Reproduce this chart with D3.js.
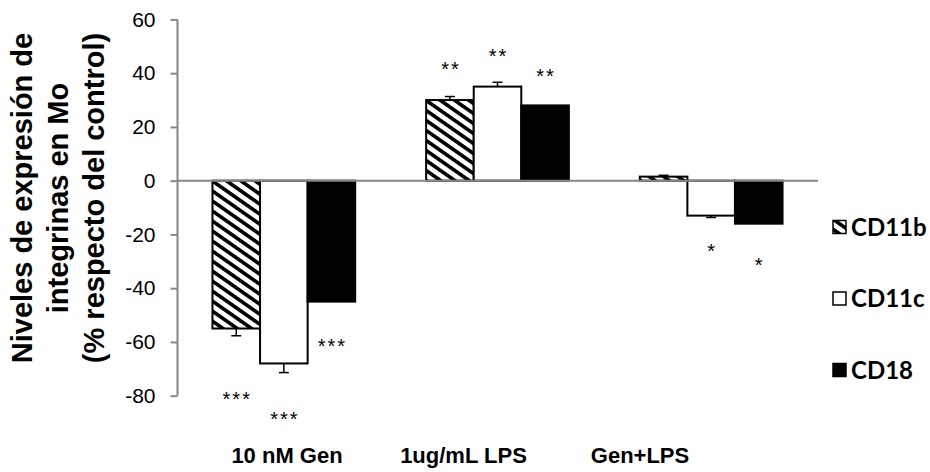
<!DOCTYPE html>
<meta charset="utf-8">
<style>
body { margin: 0; background: #fff; }
text { font-family: "Liberation Sans", Arial, sans-serif; }
.axis path, .axis line { stroke: #868686; stroke-width: 2px; }
.axis text { font-size: 21px; fill: #000; }
.cat { font-size: 22px; font-weight: bold; }
.ylab { font-size: 29px; font-weight: bold; }
.star { font-size: 20px; letter-spacing: 2px; }
.legend text { font-family: Lato, "Liberation Sans", sans-serif; font-size: 24px; font-weight: bold; }
</style>
<svg width="930" height="472"></svg>
<script src="https://cdn.jsdelivr.net/npm/d3@7"></script>
<script>

// data
var categories = ["10 nM Gen", "1ug/mL LPS", "Gen+LPS"];
var seriesNames = ["CD11b", "CD11c", "CD18"];
var cd11b = [-55, 30, 1.5];
var cd11c = [-68, 35, -13];
var cd18  = [-45, 28, -16];
// error bar sizes (0 = no error bar drawn)
var err11b = [2.7, 1.3, 0.5];
var err11c = [3.4, 1.6, 0.7];
var err18  = [0, 0, 0];
// significance marks and the y value where each sits
var sig11b = ["***", "**", ""];
var sig11c = ["***", "**", "*"];
var sig18  = ["***", "**", "*"];
var sigAt11b = [-80.4, 42.4, 0];
var sigAt11c = [-87.8, 47.1, -25.4];
var sigAt18  = [-60.7, 39.7, -30.6];
var yTicks = [-80, -60, -40, -20, 0, 20, 40, 60];

var svg = d3.select("svg");

var x = d3.scaleBand().domain(categories).range([177, 818]).paddingInner(0.332).paddingOuter(0.166),
    xs = d3.scaleBand().domain(seriesNames).range([0, x.bandwidth()]),
    y = d3.scaleLinear().domain([-80, 60]).range([395.7, 19.4]);

// category labels sit left of the groups in the original (legend squeezes them)
var xl = d3.scalePoint().domain(categories).range([287, 640]);
var legY = d3.scalePoint().domain(seriesNames).range([227, 370]);

var defs = svg.append("defs");
var pat = defs.append("pattern")
    .attr("id", "hatch")
    .attr("patternUnits", "userSpaceOnUse")
    .attr("width", 20).attr("height", 8.2)
    .attr("patternTransform", "rotate(35)");
pat.append("rect").attr("width", 20).attr("height", 8.2).attr("fill", "#fff");
pat.append("rect").attr("width", 20).attr("height", 3.6).attr("fill", "#000");

var series = [
  {name: "CD11b", vals: cd11b, err: err11b, sig: sig11b, sigAt: sigAt11b, fill: "url(#hatch)"},
  {name: "CD11c", vals: cd11c, err: err11c, sig: sig11c, sigAt: sigAt11c, fill: "#fff"},
  {name: "CD18",  vals: cd18,  err: err18,  sig: sig18,  sigAt: sigAt18,  fill: "#000"}
];

var rows = [];
series.forEach(function(s) {
  categories.forEach(function(c, i) {
    rows.push({cat: c, name: s.name, v: s.vals[i], e: s.err[i], sig: s.sig[i], at: s.sigAt[i], fill: s.fill});
  });
});

function bx(d) { return x(d.cat) + xs(d.name); }
function cx(d) { return bx(d) + xs.bandwidth() / 2; }

// bars
svg.append("g").selectAll("rect")
  .data(rows)
  .enter().append("rect")
    .attr("x", bx)
    .attr("y", function(d) { return y(Math.max(0, d.v)); })
    .attr("width", xs.bandwidth())
    .attr("height", function(d) { return Math.abs(y(d.v) - y(0)); })
    .attr("fill", function(d) { return d.fill; })
    .attr("stroke", "#000")
    .attr("stroke-width", 2);

// error bars (one-sided, away from zero)
var eb = svg.append("g").selectAll("g")
  .data(rows.filter(function(d) { return d.e > 0; }))
  .enter().append("g")
    .attr("stroke", "#000")
    .attr("stroke-width", 1.5);
eb.append("line")
    .attr("x1", cx).attr("x2", cx)
    .attr("y1", function(d) { return y(d.v); })
    .attr("y2", function(d) { return y(d.v + (d.v < 0 ? -d.e : d.e)); });
eb.append("line")
    .attr("x1", function(d) { return cx(d) - 5; })
    .attr("x2", function(d) { return cx(d) + 5; })
    .attr("y1", function(d) { return y(d.v + (d.v < 0 ? -d.e : d.e)); })
    .attr("y2", function(d) { return y(d.v + (d.v < 0 ? -d.e : d.e)); });

// significance asterisks
svg.append("g").selectAll("text")
  .data(rows.filter(function(d) { return d.sig; }))
  .enter().append("text")
    .attr("class", "star")
    .attr("x", function(d) { return cx(d) + 1; })
    .attr("y", function(d) { return y(d.at) + 9; })
    .attr("text-anchor", "middle")
    .text(function(d) { return d.sig; });

// y axis
svg.append("g")
    .attr("class", "axis")
    .attr("transform", "translate(177.5,0)")
    .call(d3.axisLeft(y).tickValues(yTicks).tickSize(7).tickPadding(15).tickSizeOuter(0)
      .tickFormat(function(d) { return String(d); }))
    .call(function(g) { g.select(".domain").attr("d", "M0," + y(60) + "V" + y(-80)); });

// zero line
svg.append("line")
    .attr("x1", 177).attr("x2", 818)
    .attr("y1", y(0)).attr("y2", y(0))
    .attr("stroke", "#868686").attr("stroke-width", 2);

// category labels
svg.append("g").selectAll("text")
  .data(categories)
  .enter().append("text")
    .attr("class", "cat")
    .attr("x", function(d) { return xl(d); })
    .attr("y", 462.5)
    .attr("text-anchor", "middle")
    .text(function(d) { return d; });

// y axis title
var yl = svg.append("text")
    .attr("class", "ylab")
    .attr("transform", "translate(0,198) rotate(-90)")
    .attr("text-anchor", "middle");
["Niveles de expresión de", "integrinas en Mo", "(% respecto del control)"].forEach(function(t, i) {
  yl.append("tspan").attr("x", 0).attr("y", 32 + i * 36).text(t);
});

// legend
var leg = svg.append("g").attr("class", "legend").selectAll("g")
  .data(series)
  .enter().append("g")
    .attr("transform", function(d) { return "translate(833," + legY(d.name) + ")"; });
leg.append("rect")
    .attr("x", 0).attr("y", -6.5)
    .attr("width", 13).attr("height", 13)
    .attr("fill", function(d) { return d.fill; })
    .attr("stroke", "#000")
    .attr("stroke-width", 1.5);
leg.append("text")
    .attr("x", 18)
    .attr("y", 8.5)
    .text(function(d) { return d.name; });

</script>
